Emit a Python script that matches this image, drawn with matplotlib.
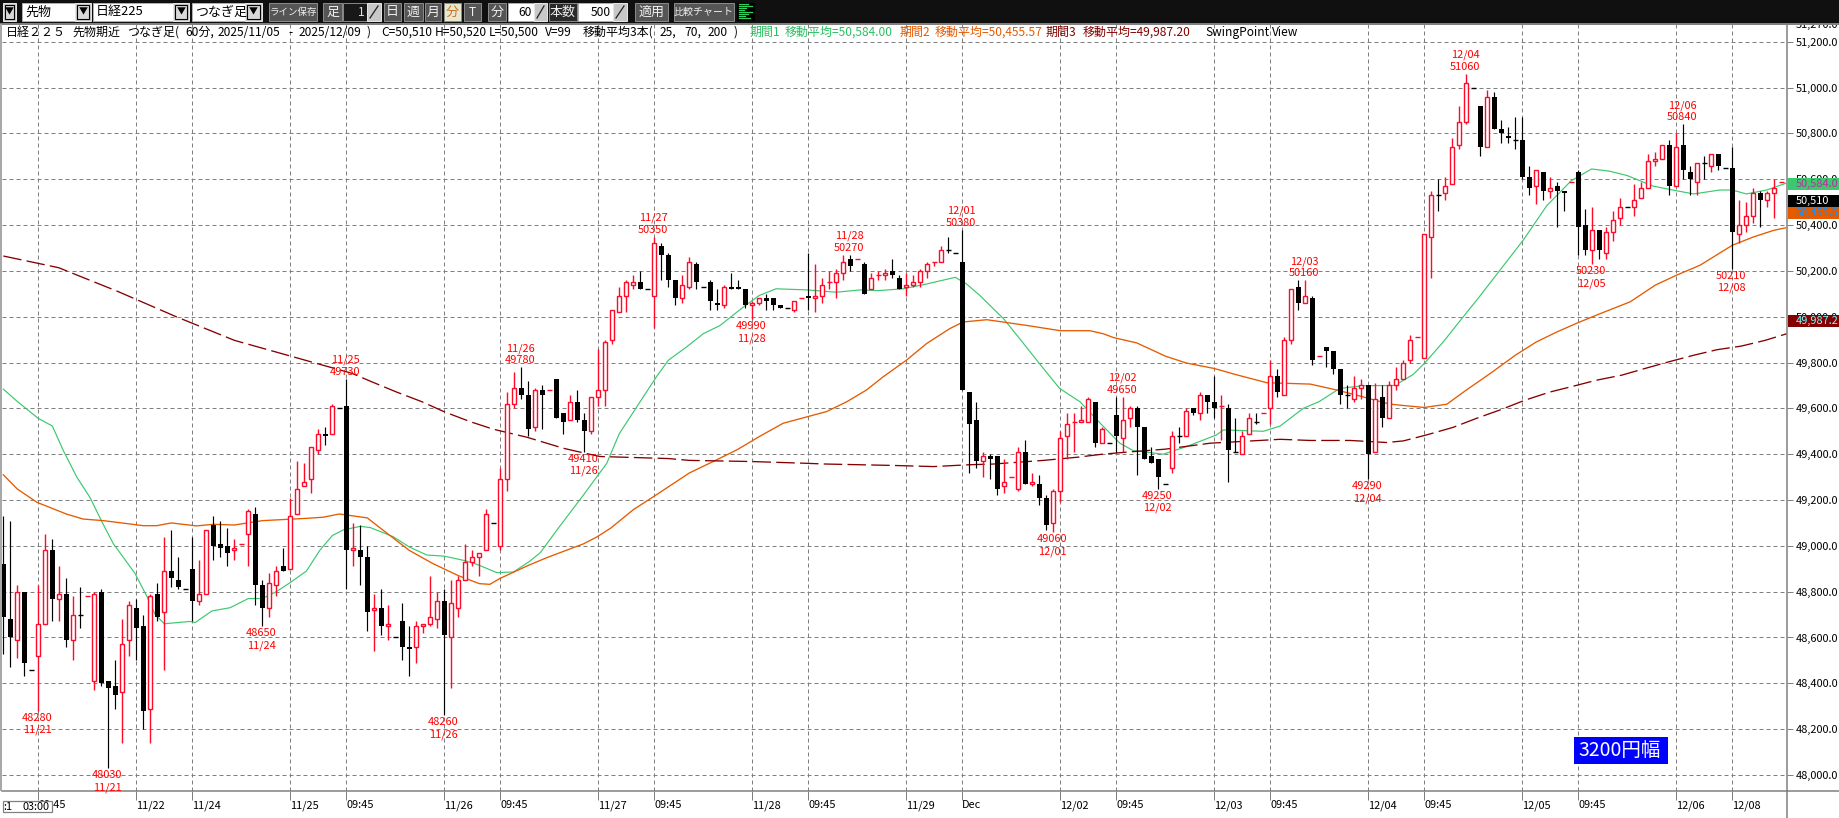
import matplotlib
matplotlib.use("Agg")
import matplotlib.pyplot as plt
from matplotlib.patches import Rectangle

plt.rcParams['font.family'] = ['Noto Sans CJK JP', 'DejaVu Sans']

opens = [48920,48680,48590,48800,48460,48520,48660,48980,48770,48790,
48590,48700,48780,48410,48800,48410,48390,48360,48590,48730,
48650,48290,48790,48710,48890,48850,48810,48900,48760,48790,
49090,49010,49000,48980,49010,49050,49140,48830,48730,48830,
48910,48900,49140,49260,49290,49420,49490,49490,49600,49610,
48980,48980,48950,48720,48730,48650,48600,48670,48560,48560,
48650,48660,48680,48760,48600,48730,48850,48930,48950,48980,
49100,49000,49290,49620,49690,49660,49520,49680,49680,49730,
49580,49550,49630,49550,49500,49650,49680,49900,50020,50090,
50140,50150,50120,50090,50310,50270,50160,50080,50130,50230,
50130,50150,50060,50050,50130,50130,50120,50050,50060,50080,
50080,50050,50040,50030,50080,50090,50080,50090,50150,50150,
50190,50250,50250,50230,50120,50180,50180,50200,50170,50130,
50140,50150,50200,50240,50240,50290,50280,50240,49670,49550,
49370,49390,49390,49260,49300,49250,49410,49270,49270,49210,
49100,49240,49480,49540,49540,49540,49630,49450,49450,49570,
49470,49560,49600,49520,49390,49380,49270,49340,49480,49480,
49600,49580,49660,49630,49610,49600,49410,49400,49490,49540,
49580,49600,49740,49660,49900,50130,50060,50080,49830,49870,
49850,49770,49660,49640,49690,49700,49410,49650,49560,49700,
49730,49810,49910,49820,50350,50530,50540,50580,50750,50850,
51000,50920,50740,50960,50820,50790,50770,50770,50610,50570,
50630,50550,50570,50550,50590,50630,50400,50290,50380,50280,
50370,50430,50480,50480,50520,50560,50680,50690,50750,50570,
50750,50630,50590,50670,50660,50710,50650,50650,50360,50400,
50440,50540,50510,50540,50590]
highs = [49130,49110,48830,48800,48460,48830,49050,49030,48910,48860,
48780,48820,48780,48800,48810,48410,48500,48680,48760,48770,
48700,48790,48840,49040,49070,48950,48810,49040,48940,49070,
49130,49110,49080,49030,49010,49160,49170,48850,48880,48910,
48990,49210,49370,49360,49430,49510,49520,49620,49600,49730,
49100,49090,49000,48790,48810,48740,48600,48750,48650,48670,
48660,48870,48800,48810,48850,48870,49010,48980,48970,49160,
49100,49340,49670,49760,49780,49720,49690,49700,49680,49730,
49580,49660,49680,49580,49650,49860,49900,50030,50130,50160,
50180,50200,50120,50350,50320,50280,50160,50180,50260,50240,
50130,50160,50120,50140,50190,50160,50120,50070,50080,50100,
50080,50050,50040,50070,50080,50280,50230,50170,50200,50210,
50270,50270,50250,50240,50190,50200,50210,50250,50180,50190,
50180,50210,50240,50240,50310,50350,50280,50380,49670,49630,
49410,49400,49390,49380,49300,49430,49460,49320,49310,49220,
49250,49500,49580,49580,49610,49650,49630,49520,49450,49650,
49650,49610,49610,49520,49430,49380,49270,49500,49520,49600,
49600,49670,49660,49740,49660,49620,49560,49500,49580,49580,
49580,49810,49770,49910,50120,50160,50160,50090,49830,49870,
49850,49770,49700,49740,49730,49700,49710,49700,49720,49780,
49810,49920,49910,50360,50550,50600,50610,50780,50920,51060,
51000,50920,50990,50980,50860,50830,50870,50870,50660,50640,
50630,50610,50590,50550,50590,50640,50470,50480,50380,50390,
50460,50520,50480,50580,50590,50710,50720,50750,50770,50800,
50840,50660,50670,50700,50710,50710,50650,50740,50510,50500,
50560,50550,50550,50600,50590]
lows = [48530,48470,48510,48430,48460,48280,48660,48670,48670,48560,
48500,48640,48780,48370,48390,48030,48290,48140,48520,48500,
48200,48140,48670,48460,48820,48810,48810,48670,48740,48790,
48940,48950,48910,48940,49010,48910,48740,48650,48690,48780,
48890,48900,49140,49260,49230,49400,49440,49490,49600,48810,
48910,48830,48630,48540,48610,48590,48600,48500,48430,48490,
48620,48650,48640,48260,48380,48690,48850,48910,48870,48980,
49100,48980,49240,49600,49640,49480,49500,49510,49680,49560,
49490,49550,49540,49410,49490,49610,49610,49880,50020,50020,
50120,50120,50120,49950,50160,50130,50050,50060,50120,50120,
50130,50030,50030,50040,50120,50120,50040,49990,50050,50030,
50030,50040,50040,50020,50080,50030,50020,50060,50120,50080,
50160,50200,50250,50100,50120,50160,50160,50170,50120,50090,
50130,50130,50170,50220,50240,50280,50280,49680,49320,49340,
49300,49290,49220,49230,49300,49240,49270,49260,49180,49070,
49060,49190,49380,49410,49540,49540,49430,49450,49450,49410,
49410,49520,49310,49380,49360,49250,49270,49320,49450,49480,
49570,49550,49580,49560,49460,49280,49410,49400,49490,49530,
49580,49530,49650,49660,49880,50030,50060,49790,49830,49780,
49750,49620,49600,49630,49640,49290,49410,49520,49560,49680,
49730,49800,49910,49820,50170,50460,50510,50580,50730,50840,
51000,50700,50740,50820,50760,50760,50730,50600,50530,50490,
50510,50520,50390,50460,50590,50270,50270,50230,50250,50250,
50330,50400,50480,50440,50520,50560,50660,50690,50530,50570,
50600,50530,50530,50600,50630,50640,50650,50210,50320,50370,
50410,50390,50480,50430,50590]
closes = [48690,48600,48800,48490,48460,48660,48980,48770,48790,48590,
48700,48700,48780,48790,48400,48380,48350,48570,48740,48640,
48280,48780,48690,48890,48860,48820,48810,48760,48790,49070,
49000,48990,48970,48990,49010,49150,48830,48730,48840,48890,
48890,49130,49250,49280,49430,49490,49480,49610,49600,48980,
48990,48950,48710,48730,48650,48660,48600,48560,48550,48650,
48660,48690,48760,48610,48750,48850,48930,48950,48970,49140,
49100,49290,49620,49690,49660,49510,49680,49660,49680,49560,
49540,49630,49550,49500,49650,49680,49890,50030,50090,50150,
50150,50120,50120,50320,50270,50160,50080,50140,50240,50150,
50130,50070,50050,50130,50120,50120,50050,50060,50080,50070,
50050,50040,50040,50070,50080,50080,50090,50140,50150,50190,
50240,50220,50250,50100,50170,50180,50190,50180,50120,50140,
50150,50200,50230,50240,50290,50290,50280,49680,49530,49370,
49390,49380,49250,49280,49300,49410,49270,49280,49210,49090,
49240,49470,49530,49540,49550,49640,49450,49510,49450,49480,
49550,49600,49520,49380,49360,49300,49270,49480,49480,49590,
49580,49660,49630,49600,49610,49420,49410,49480,49560,49540,
49580,49740,49670,49900,50120,50060,50090,49810,49830,49850,
49770,49660,49660,49690,49700,49400,49640,49560,49700,49730,
49800,49900,49910,50360,50530,50530,50570,50740,50850,51020,
51000,50740,50960,50820,50800,50780,50770,50610,50560,50640,
50550,50560,50550,50540,50590,50390,50290,50380,50290,50370,
50420,50480,50480,50510,50560,50680,50690,50750,50570,50740,
50640,50600,50670,50670,50710,50660,50650,50370,50400,50440,
50540,50510,50540,50560,50590]
# bars with open == close that are drawn in the rising colour
red_doji = [12,34,78,114,118,122,125,133,144,153,174,180,188,202,224,254]

ma25_k = [0,2,5,7,8.6,10.5,12.4,14,15.7,18.8,20.5,21.7,23,26.7,27.4,29.8,32.4,35,37,39,41,43.3,45.2,47,48.6,51,52.4,55.7,58,60.5,63,66,67.6,70.5,72.9,75.2,76.7,79.5,82.9,86.2,88,90.5,93.3,95,97.6,100,102.4,105.7,108,110.4,114.8,119,122.4,125,128.6,131.9,136,137.6,139.5,142.9,145.2,148,150.9,153.8,156.7,159.5,161.4,165.7,169,173.3,174.3,180,182.4,185.7,188,190.9,194.3,198.6,199.5,201.4,203,205.7,209.3,210.5,213.8,217.1,220.5,224,226.9,229.5,232,235.7,239,241.5,245.2,247,249,251.9,254.6]
ma25_v = [49684,49630,49556,49523,49414,49300,49210,49110,49010,48880,48780,48700,48660,48670,48665,48716,48730,48770,48770,48800,48840,48890,48980,49045,49070,49085,49080,49040,48995,48960,48955,48935,48920,48883,48886,48933,48970,49086,49223,49360,49490,49607,49738,49810,49868,49926,49962,50042,50093,50122,50117,50107,50117,50114,50122,50143,50172,50143,50093,49991,49904,49796,49687,49629,49535,49448,49416,49400,49433,49484,49506,49500,49523,49600,49630,49687,49699,49700,49713,49748,49796,49890,50028,50073,50203,50333,50485,50594,50645,50635,50616,50570,50550,50536,50553,50553,50536,50553,50582]

ma70_k = [0,2,4.8,9,11.4,14.3,20,21.9,24,27.6,30,33,37,43.3,45.7,48,52,54.3,58,61.4,65,68,69.5,70.9,74.8,77.6,82.9,84.8,86.8,90,93.3,98,101.4,104.8,108,111.4,117.6,120.5,123.3,125.7,129,131.9,135.2,137.1,140.5,146.2,151,155.2,157.1,158.6,161.9,166,169,173,176,180.5,186.7,190.5,193.3,198,199.5,203,206.2,209,212.4,216,219,221.9,224.8,228,232.4,236,239,242.4,247,250,252.9,254.6]
ma70_v = [49310,49248,49190,49139,49117,49110,49088,49088,49100,49087,49094,49091,49110,49120,49125,49139,49122,49067,48980,48922,48870,48835,48832,48857,48912,48948,49009,49039,49078,49158,49223,49318,49368,49419,49477,49535,49586,49629,49680,49738,49810,49883,49948,49977,49987,49962,49939,49939,49926,49909,49886,49828,49798,49774,49748,49712,49706,49680,49658,49619,49614,49604,49618,49680,49752,49832,49890,49933,49972,50012,50065,50138,50181,50225,50312,50348,50377,50388]

ma200_k = [0,7.9,16.3,24.7,33,49.8,52.4,56.2,59.8,63,66.7,70,74.8,80,81.4,85.2,95,98,106.9,114,117.6,127,132.9,138,141.4,148.6,153.5,157,160.5,166,172.4,179.5,182.4,186.7,192.4,197.6,200,203.3,207.1,210.5,213.8,217.4,220.9,224.3,227.6,231.2,234.5,237.9,241.5,244.8,248.3,251.7,254.8]
ma200_v = [50265,50214,50111,50000,49897,49753,49719,49671,49629,49585,49542,49509,49474,49426,49416,49390,49381,49373,49368,49361,49357,49351,49346,49354,49357,49373,49387,49400,49409,49422,49448,49460,49465,49460,49460,49451,49458,49484,49517,49557,49593,49636,49671,49697,49723,49745,49774,49803,49832,49856,49872,49897,49926]

high_labels = [(49,'11/25',49730),(74,'11/26',49780),(93,'11/27',50350),(121,'11/28',50270),(137,'12/01',50380),
               (160,'12/02',49650),(186,'12/03',50160),(209,'12/04',51060),(240,'12/06',50840)]
low_labels = [(5,'11/21',48280),(15,'11/21',48030),(37,'11/24',48650),(63,'11/26',48260),(83,'11/26',49410),
              (107,'11/28',49990),(150,'12/01',49060),(165,'12/02',49250),(195,'12/04',49290),(227,'12/05',50230),(247,'12/08',50210)]

xtick_k = [5,19,27,41,49,63,71,85,93,107,115,129,137,151,159,173,181,195,203,217,225,239,247]
xtick_lab = ['09:45','11/22','11/24','11/25','09:45','11/26','09:45','11/27','09:45','11/28','09:45','11/29','Dec',
             '12/02','09:45','12/03','09:45','12/04','09:45','12/05','09:45','12/06','12/08']
ytick_v = list(range(48000, 51201, 200))

price_tags = [(50584.00,'50,584.0','#3CC86E','#C02CA0'),(50510.00,'50,510','#000000','#FFFFFF'),
              (50455.57,'50,455.5','#E65A00','#1090FF'),(49987.20,'49,987.2','#840000','#70FFFF')]

W, H = 1839, 818
GRAY = '#808080'
RED = '#FF0A28'
FS = 11*0.72

fig = plt.figure(figsize=(W/100, H/100), dpi=100, facecolor='white')
ax = fig.add_axes([2/W, (H-791)/H, (1787-2)/W, (791-23)/H])
ax.set_xlim(-0.19, 254.81)
ax.set_ylim(47930, 51282)

ax.set_yticks(ytick_v)
ax.set_yticklabels([f'{v:,}.0' for v in ytick_v], fontsize=FS)
ax.yaxis.tick_right()
ax.tick_params(axis='y', length=4.3, width=0.72, color=GRAY, pad=2.3, labelcolor='black')
ax.set_xticks(xtick_k)
ax.set_xticklabels(xtick_lab, fontsize=FS, ha='left')
ax.tick_params(axis='x', length=6.5, width=0.72, color=GRAY, pad=0)
ax.grid(True, color=GRAY, linewidth=0.72, linestyle=(0, (4, 3)), zorder=0)
ax.set_axisbelow(True)
for name, sp in ax.spines.items():
    sp.set_color(GRAY)
    sp.set_linewidth(1.1)
ax.spines['left'].set_visible(False)

ax.plot(ma25_k, ma25_v, color='#3CC86E', lw=0.85, zorder=2)
ax.plot(ma70_k, ma70_v, color='#E65A00', lw=0.95, zorder=2)
ax.plot(ma200_k, ma200_v, color='#840000', lw=0.95, linestyle=(0, (14, 4)), zorder=2)

for k, (o, h, l, c) in enumerate(zip(opens, highs, lows, closes)):
    up = c > o or (c == o and k in red_doji)
    col = RED if up else 'black'
    if h > l:
        ax.vlines(k, l, h, color=col, lw=1.0 if up else 0.85, zorder=3)
    if o == c:
        ax.hlines(o, k-2.5/7, k+2.5/7, color=col, lw=1.0, zorder=4)
    elif up:
        ax.bar(k, c-o, bottom=o, width=4/7, facecolor='white', edgecolor=RED, linewidth=1.0, zorder=4)
    else:
        ax.bar(k, o-c, bottom=c, width=5/7, facecolor='black', edgecolor='none', zorder=4)

def swing(k, price, top_txt, bot_txt, high):
    ys = (16, 4) if high else (-10, -22)
    for t, dy in zip((top_txt, bot_txt), ys):
        ax.annotate(t, xy=(k, price), xytext=(-1, dy), textcoords='offset pixels', ha='center', va='baseline',
                    color='#FF0000', fontsize=FS, zorder=6, annotation_clip=False)

for k, d, p in high_labels:
    swing(k, p, d, str(p), True)
for k, d, p in low_labels:
    swing(k, p, str(p), d, False)

# ---------- overlay in pixel coordinates: window chrome ----------
ov = fig.add_axes([0, 0, 1, 1], zorder=10)
ov.set_xlim(0, W); ov.set_ylim(H, 0); ov.axis('off'); ov.patch.set_alpha(0)

def rect(x0, y0, x1, y1, fc, ec='none', lw=0, z=2):
    ov.add_patch(Rectangle((x0, y0), x1-x0, y1-y0, facecolor=fc, edgecolor=ec, linewidth=lw, zorder=z))

def txt(x, y, s, color='black', size=11, ha='left', z=5, **kw):
    ov.text(x, y, s, color=color, fontsize=size*0.72, ha=ha, va='center', zorder=z, **kw)

def field(x0, x1, s, ha='left', fc='white', color='black', size=13):
    rect(x0, 3, x1, 21, fc, ec='#b0b0b0', lw=0.7)
    txt(x0+3 if ha == 'left' else x1-2, 12, s, color=color, size=size, ha=ha)

def drop(x0, x1):
    rect(x0, 3, x1, 21, '#c8c8c8', ec='#e8e8e8', lw=0.7)
    rect(x0+2, 5, x1-2, 19, '#d8d8d8', ec='black', lw=0.8)
    txt((x0+x1)/2, 12, '▼', size=9, ha='center')

def button(x0, x1, s, size=12, fc='#555555', color='#f0f0f0'):
    rect(x0, 3, x1, 21, fc, ec='#8c8c8c', lw=0.7)
    txt((x0+x1)/2, 12, s, color=color, size=size, ha='center')

def spin(x0, x1):
    rect(x0, 3, x1, 21, '#c8c8c8', ec='#e8e8e8', lw=0.7)
    ov.plot([x0+3, x1-3], [18, 6], color='#202020', lw=0.9, zorder=5)

# price-axis underlay that the black bar partly hides
txt(1796, 25, '51,270.0', z=1)

rect(0, 0, W, 23, '#101010', z=2)
rect(0, 23, W, 24.5, GRAY, z=3)
rect(0, 24, 2, 791, '#a8a8a8', z=3)

drop(3, 16)
field(22, 75, '先物'); drop(75, 91)
field(93, 173, '日経225'); drop(173, 189)
field(192, 245, 'つなぎ足'); drop(245, 262)
button(269, 317, 'ライン保存', size=9.5)
button(323, 342, '足', size=13)
rect(343, 3, 367, 21, '#181818', ec='#888888', lw=0.7)
txt(365, 12, '1', color='#e0e0e0', size=12, ha='right')
spin(367, 381)
button(384, 401, '日', size=13)
button(404, 423, '週', size=13)
button(425, 441, '月', size=13)
button(444, 461, '分', size=13, fc='#E8E8D0', color='#C87020')
button(464, 481, 'T', size=12)
button(488, 506, '分', size=13)
field(508, 534, '60', ha='right', size=12); spin(534, 547)
button(549, 577, '本数', size=13, fc='#2a2a2a')
field(578, 613, '500', ha='right', size=12); spin(613, 627)
button(635, 668, '適用', size=13)
button(674, 734, '比較チャート', size=10)
rect(737, 3, 755, 21, 'black')
for y, x1 in zip([4, 6, 8, 10, 12, 14, 16, 18], [748, 752, 746, 744, 752, 748, 745, 750]):
    ov.plot([739, x1], [y, y], color='#30D060', lw=0.9, zorder=5)

# header texts
HY = 32.5
for x, s in [(6, '日経２２５'), (72, '先物期近'), (127, 'つなぎ足('), (185, '60分,'), (218, '2025/11/05'), (288, '-'),
             (299, '2025/12/09'), (367, ')'), (381, 'C=50,510'), (435, 'H=50,520'), (489, 'L=50,500'), (545, 'V=99'),
             (583, '移動平均3本('), (660, '25,'), (684, '70,'), (708, '200'), (734, ')'), (1205, 'SwingPoint'), (1272, 'View')]:
    txt(x, HY, s, size=12)
txt(750, HY, '期間1', color='#28C060', size=12)
txt(785, HY, '移動平均=50,584.00', color='#28C060', size=12)
txt(900, HY, '期間2', color='#E65A00', size=12)
txt(935, HY, '移動平均=50,455.57', color='#E65A00', size=12)
txt(1046, HY, '期間3', color='#840000', size=12)
txt(1083, HY, '移動平均=49,987.20', color='#840000', size=12)

# axis extensions
ov.plot([1787, 1787], [791, H], color=GRAY, lw=1.1, zorder=3)
ov.plot([1787, W], [791, 791], color=GRAY, lw=1.1, zorder=3)

# price tags, placed from their values through the chart's own scale
def price_px(p):
    return H - ax.transData.transform((0, p))[1]

for p, s, fc, tc in price_tags:
    y = price_px(p) + 1
    rect(1788, y-6, W, y+6, fc, z=3)
    txt(1796, y, s, color=tc, z=5)

# cursor read-out on the time axis
rect(3, 801, 52, 812, 'white', ec=GRAY, lw=0.9, z=3)
txt(3, 806.5, ':1', z=5)
txt(23, 806.5, '03:00', z=5)

# range badge
rect(1574, 737, 1668, 764, '#0000FF', z=3)
txt(1578, 750, '3200円幅', color='white', size=19.5, z=5)

fig.savefig('out.png', dpi=100, facecolor='white')
